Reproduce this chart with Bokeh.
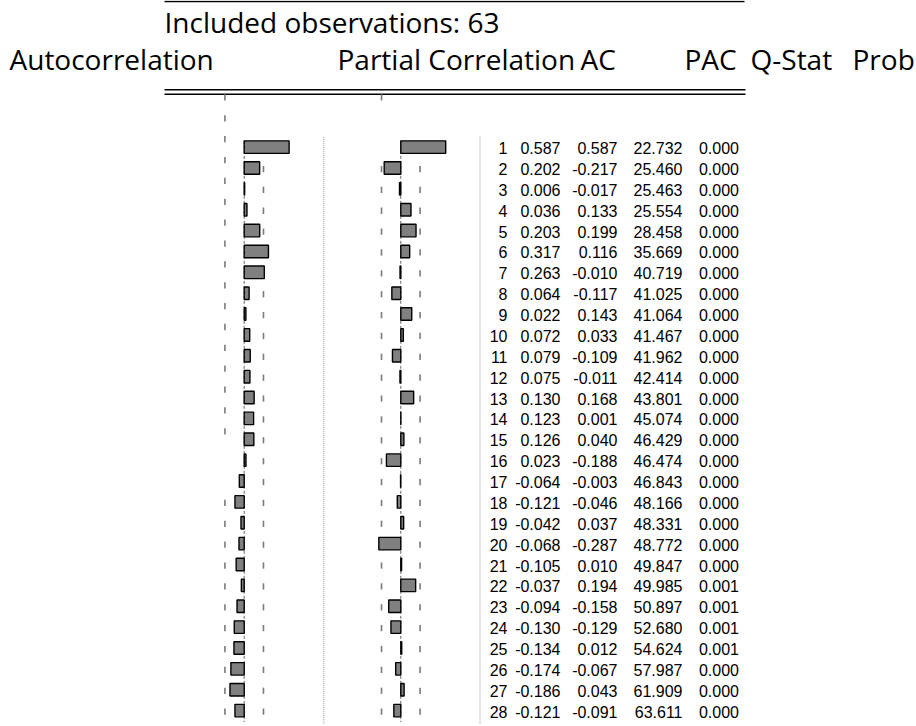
from bokeh.plotting import figure
from bokeh.models import Range1d, ColumnDataSource
from bokeh.core.properties import value
from bokeh.embed import file_html
from bokeh.resources import INLINE

# ---------------- data ----------------
nobs = 63
lags = list(range(1, 29))
ac = [0.587, 0.202, 0.006, 0.036, 0.203, 0.317, 0.263, 0.064, 0.022, 0.072,
      0.079, 0.075, 0.130, 0.123, 0.126, 0.023, -0.064, -0.121, -0.042, -0.068,
      -0.105, -0.037, -0.094, -0.130, -0.134, -0.174, -0.186, -0.121]
pac = [0.587, -0.217, -0.017, 0.133, 0.199, 0.116, -0.010, -0.117, 0.143, 0.033,
       -0.109, -0.011, 0.168, 0.001, 0.040, -0.188, -0.003, -0.046, 0.037, -0.287,
       0.010, 0.194, -0.158, -0.129, 0.012, -0.067, 0.043, -0.091]
qstat = [22.732, 25.460, 25.463, 25.554, 28.458, 35.669, 40.719, 41.025, 41.064, 41.467,
         41.962, 42.414, 43.801, 45.074, 46.429, 46.474, 46.843, 48.166, 48.331, 48.772,
         49.847, 49.985, 50.897, 52.680, 54.624, 57.987, 61.909, 63.611]
prob = [0.000, 0.000, 0.000, 0.000, 0.000, 0.000, 0.000, 0.000, 0.000, 0.000,
        0.000, 0.000, 0.000, 0.000, 0.000, 0.000, 0.000, 0.000, 0.000, 0.000,
        0.000, 0.001, 0.001, 0.001, 0.001, 0.000, 0.000, 0.000]
title_text = "Included observations: %d" % nobs
col_headers = ["Autocorrelation", "Partial Correlation", "AC", "PAC", "Q-Stat", "Prob"]

# ---------------- layout constants (page pixels) ----------------
W, H = 916, 726
row0_y, row_h = 146.6, 20.87        # page y of lag-1 bar centre, row pitch
ac_zero, pac_zero, px_per_unit = 243.7, 400.3, 76.5

def lag_at(y):
    return 1 + (y - row0_y) / row_h

def val_at(x, zero):
    return (x - zero) / px_per_unit

p = figure(width=W, height=H, x_range=Range1d(0, W), y_range=Range1d(H, 0),
           output_backend="svg", toolbar_location=None, min_border=0)
p.axis.visible = False
p.grid.visible = False
p.outline_line_color = None
p.background_fill_color = "white"
p.border_fill_color = "white"

p.extra_y_ranges = {"lag": Range1d(lag_at(H), lag_at(0))}
p.extra_x_ranges = {"ac": Range1d(val_at(0, ac_zero), val_at(W, ac_zero)),
                    "pac": Range1d(val_at(0, pac_zero), val_at(W, pac_zero))}

# ---------------- header ----------------
hfont = value("Open Sans")
p.segment(x0=[164], y0=[1], x1=[744], y1=[1], line_color="black", line_width=1.4)
p.text(x=[164], y=[21.5], text=[title_text], text_font=hfont, text_font_size="28px",
       text_baseline="alphabetic", text_align="left", text_color="black")
hx = [9, 337, 580, 684, 750, 852]
p.text(x=hx, y=[58.5] * 6, text=col_headers, text_font=hfont, text_font_size="28px",
       text_baseline="alphabetic", text_align="left", text_color="black")
p.segment(x0=[164, 164], y0=[89.3, 93.7], x1=[745, 745], y1=[89.3, 93.7],
          line_color="black", line_width=1.4)

# column separators (dotted)
p.segment(x0=[323.3, 479.5], y0=[136.3] * 2, x1=[323.3, 479.5], y1=[724] * 2,
          line_color="#9a9a9a", line_dash="1 1", line_width=1)

# ---------------- correlogram bars ----------------
bound = 2 / nobs ** 0.5
bar_h = 0.6
dash_half = 0.15
dash_kw = dict(line_color="#7a7a7a", line_width=1.6, y_range_name="lag")

for name in ("ac", "pac"):
    first, last = lags[0] - bar_h / 2, lags[-1] + 0.55
    p.segment(x0=[0], y0=[first], x1=[0], y1=[last], line_color="#666666",
              line_dash="3 2", line_width=1, x_range_name=name, y_range_name="lag")

# upper band dashes
up_lags = lags[1:]
for name in ("ac", "pac"):
    p.segment(x0=[bound] * len(up_lags), y0=[l + 0.05 - dash_half for l in up_lags],
              x1=[bound] * len(up_lags), y1=[l + 0.05 + dash_half for l in up_lags],
              x_range_name=name, **dash_kw)

# lower band dashes (the upper part of the AC column is displaced in the original)
shift = -2.43
ac_lo_y = [l + (shift if l <= 17 else 0) + 0.05 for l in lags]
p.segment(x0=[-bound] * len(lags), y0=[y - dash_half for y in ac_lo_y],
          x1=[-bound] * len(lags), y1=[y + dash_half for y in ac_lo_y],
          x_range_name="ac", **dash_kw)
pac_lo_y = [l + (shift if l == 1 else 0) + 0.05 for l in lags]
p.segment(x0=[-bound] * len(lags), y0=[y - dash_half for y in pac_lo_y],
          x1=[-bound] * len(lags), y1=[y + dash_half for y in pac_lo_y],
          x_range_name="pac", **dash_kw)

src = ColumnDataSource(dict(lag=lags, ac=ac, pac=pac,
                            lag_s=[str(l) for l in lags],
                            ac_s=["%.3f" % v for v in ac],
                            pac_s=["%.3f" % v for v in pac],
                            q_s=["%.3f" % v for v in qstat],
                            p_s=["%.3f" % v for v in prob]))
for name in ("ac", "pac"):
    p.hbar(y="lag", left=0, right=name, height=bar_h, source=src,
           fill_color="#808080", line_color="black", line_width=1.4,
           x_range_name=name, y_range_name="lag")

# ---------------- table ----------------
tfont = value("Liberation Sans")
col_right = {"lag_s": 507, "ac_s": 560, "pac_s": 617, "q_s": 682, "p_s": 738.5}
for col, xr in col_right.items():
    p.text(x=xr, y="lag", text=col, source=src, y_range_name="lag",
           text_font=tfont, text_font_size="16px", text_align="right",
           text_baseline="alphabetic", y_offset=1.0, text_color="black")

open("out.html", "w").write(file_html(p, INLINE))
